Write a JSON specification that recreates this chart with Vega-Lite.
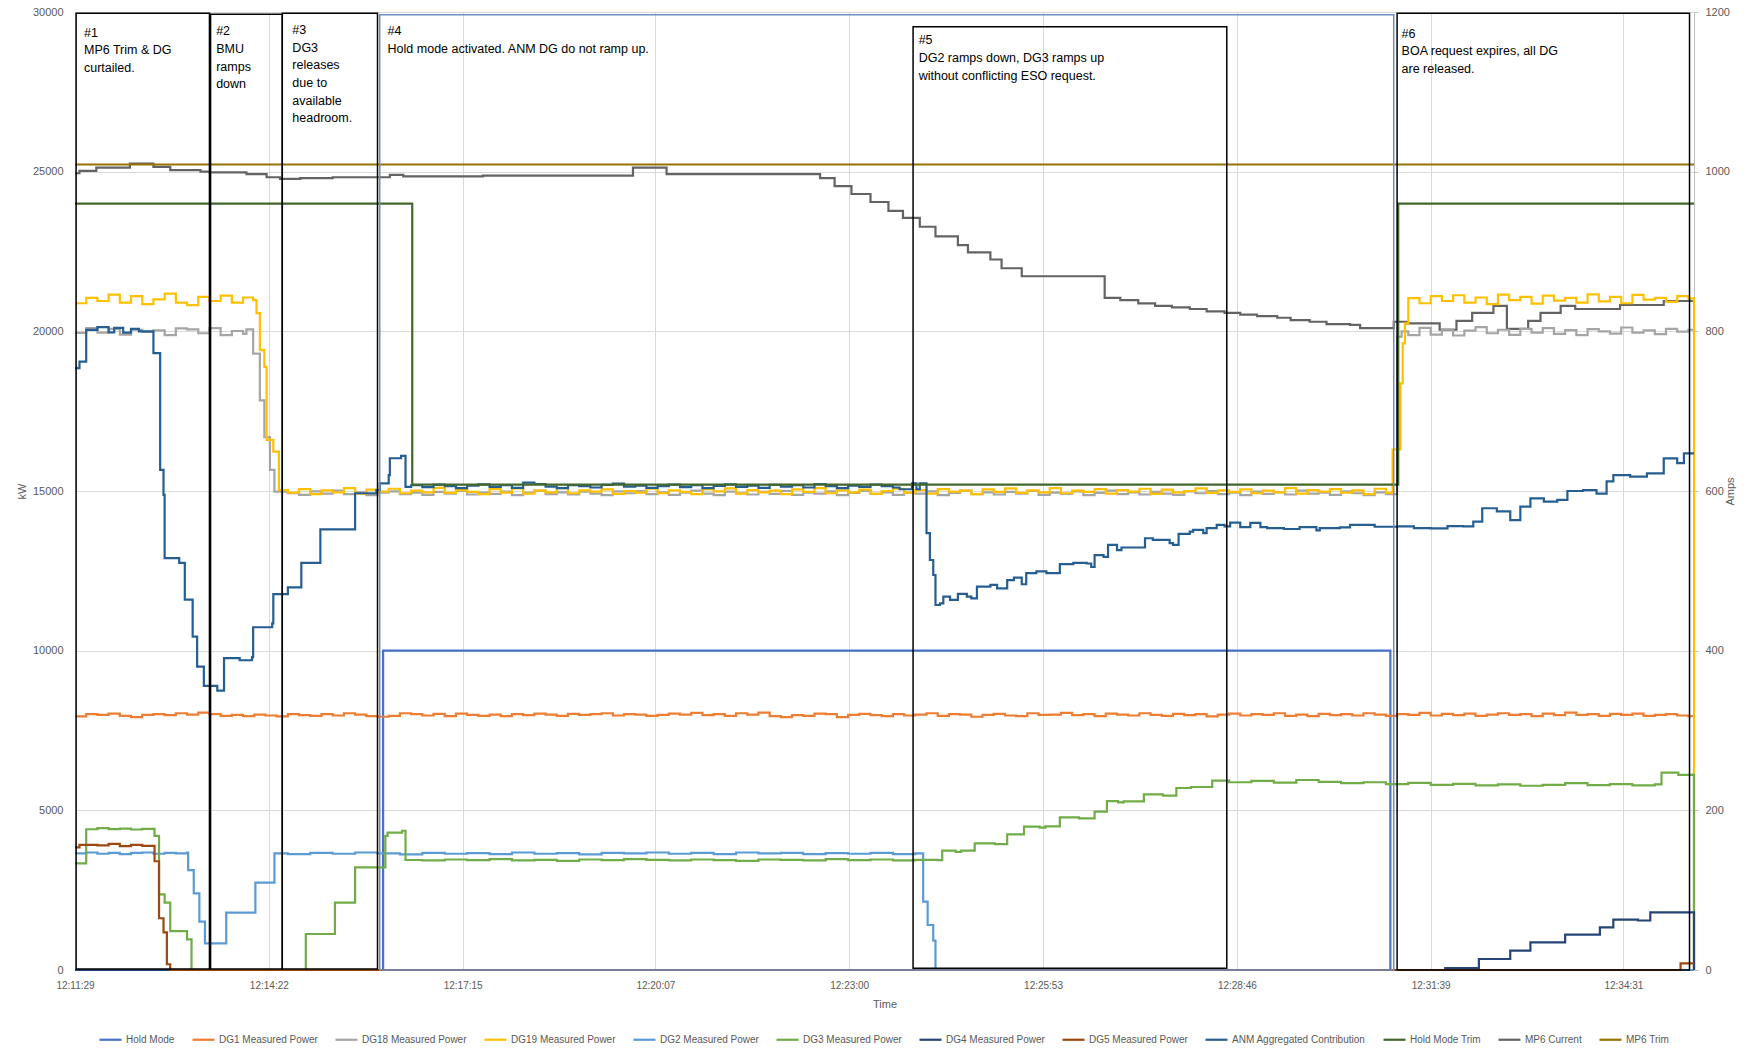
{
"$schema": "https://vega.github.io/schema/vega-lite/v6.json",
"width": 1619, "height": 958,
"autosize": {"type": "none"},
"padding": {"left": 75, "top": 12, "right": 55, "bottom": 81},
"background": "white",
"config": {
 "view": {"stroke": null},
 "font": "Liberation Sans",
 "axis": {"labelColor": "#595959", "titleColor": "#595959", "titleFontWeight": "normal", "gridColor": "#D9D9D9", "gridWidth": 1, "domainColor": "#D9D9D9", "tickColor": "#D9D9D9", "labelFont": "Liberation Sans", "titleFont": "Liberation Sans"},
 "legend": {"labelColor": "#595959", "labelFont": "Liberation Sans"},
 "line": {"strokeWidth": 2.2, "interpolate": "step-after"}
},
"layer": [
{
 "encoding": {
  "x": {"field": "t", "type": "temporal",
   "scale": {"domain": [{"year": 1900, "month": 1, "date": 1, "hours": 12, "minutes": 11, "seconds": 29}, {"year": 1900, "month": 1, "date": 1, "hours": 12, "minutes": 35, "seconds": 34}]},
   "axis": {"title": "Time", "titleFontSize": 11, "labelFontSize": 10, "format": "%H:%M:%S", "grid": true, "domain": true, "ticks": false, "tickSize": 0, "labelPadding": 10, "titlePadding": 8, "labelFlush": false,
    "values": [
     {"year": 1900, "month": 1, "date": 1, "hours": 12, "minutes": 11, "seconds": 29},
     {"year": 1900, "month": 1, "date": 1, "hours": 12, "minutes": 14, "seconds": 22},
     {"year": 1900, "month": 1, "date": 1, "hours": 12, "minutes": 17, "seconds": 15},
     {"year": 1900, "month": 1, "date": 1, "hours": 12, "minutes": 20, "seconds": 7},
     {"year": 1900, "month": 1, "date": 1, "hours": 12, "minutes": 23, "seconds": 0},
     {"year": 1900, "month": 1, "date": 1, "hours": 12, "minutes": 25, "seconds": 53},
     {"year": 1900, "month": 1, "date": 1, "hours": 12, "minutes": 28, "seconds": 46},
     {"year": 1900, "month": 1, "date": 1, "hours": 12, "minutes": 31, "seconds": 39},
     {"year": 1900, "month": 1, "date": 1, "hours": 12, "minutes": 34, "seconds": 31}]}},
  "y": {"field": "v", "type": "quantitative", "scale": {"domain": [0, 1200], "nice": false, "zero": true},
   "axis": {"orient": "right", "title": "Amps", "titleFontSize": 11, "titleAngle": 270, "titlePadding": 6, "labelFontSize": 11, "values": [0, 200, 400, 600, 800, 1000, 1200], "format": "d", "grid": false, "domain": true, "domainColor": "#BFBFBF", "ticks": true, "tickSize": 4, "tickColor": "#BFBFBF", "labelPadding": 7}}
 },
 "layer": [
  {"data": {"format": {"parse": {"t": "date:'%H:%M:%S'"}}, "values": [
   {"t":"12:11:29","v":998},{"t":"12:11:33","v":1001},{"t":"12:11:48","v":1005},{"t":"12:12:18","v":1010},{"t":"12:12:39","v":1006},{"t":"12:12:54","v":1002},{"t":"12:13:21","v":1000},{"t":"12:13:29","v":999},{"t":"12:14:02","v":997},{"t":"12:14:20","v":993},{"t":"12:14:32","v":991},{"t":"12:14:50","v":992},{"t":"12:15:19","v":993},{"t":"12:16:10","v":996},{"t":"12:16:22","v":994},{"t":"12:17:33","v":995},{"t":"12:19:47","v":1005},{"t":"12:20:17","v":997},{"t":"12:22:34","v":992},{"t":"12:22:47","v":982},{"t":"12:23:02","v":972},{"t":"12:23:19","v":962},{"t":"12:23:35","v":951},{"t":"12:23:48","v":942},{"t":"12:24:03","v":931},{"t":"12:24:17","v":919},{"t":"12:24:37","v":908},{"t":"12:24:46","v":899},{"t":"12:25:06","v":890},{"t":"12:25:16","v":879},{"t":"12:25:34","v":869},{"t":"12:26:48","v":842},{"t":"12:27:02","v":839},{"t":"12:27:18","v":835},{"t":"12:27:33","v":832},{"t":"12:27:48","v":830},{"t":"12:28:04","v":828},{"t":"12:28:19","v":825},{"t":"12:28:35","v":823},{"t":"12:28:49","v":821},{"t":"12:29:04","v":819},{"t":"12:29:22","v":817},{"t":"12:29:34","v":814},{"t":"12:29:51","v":812},{"t":"12:30:06","v":809},{"t":"12:30:27","v":808},{"t":"12:30:36","v":804},{"t":"12:31:06","v":812},{"t":"12:31:18","v":810},{"t":"12:31:47","v":802},{"t":"12:32:02","v":813},{"t":"12:32:16","v":823},{"t":"12:32:35","v":832},{"t":"12:32:47","v":803},{"t":"12:33:06","v":813},{"t":"12:33:17","v":823},{"t":"12:33:35","v":832},{"t":"12:33:48","v":828},{"t":"12:34:28","v":833},{"t":"12:35:07","v":838},{"t":"12:35:33","v":838}]},
   "mark": {"type": "line"},
   "encoding": {"color": {"datum": "MP6 Current",
     "scale": {"domain": ["Hold Mode","DG1 Measured Power","DG18 Measured Power","DG19 Measured Power","DG2 Measured Power","DG3 Measured Power","DG4 Measured Power","DG5 Measured Power","ANM Aggregated Contribution","Hold Mode Trim","MP6 Current","MP6 Trim"],
      "range": ["#4472C4","#ED7D31","#A5A5A5","#FFC000","#5B9BD5","#70AD47","#264478","#9E480E","#255E91","#43682B","#636363","#997300"]},
     "legend": {"orient": "none", "legendX": 23, "legendY": 1015, "direction": "horizontal", "columns": 12, "symbolType": "stroke", "symbolStrokeWidth": 2.2, "symbolSize": 484, "labelFontSize": 10, "columnPadding": 13, "title": null, "labelOffset": 3, "labelLimit": 0}}}},
  {"data": {"format": {"parse": {"t": "date:'%H:%M:%S'"}}, "values": [{"t":"12:11:29","v":1009},{"t":"12:35:34","v":1009}]},
   "mark": {"type": "line"}, "encoding": {"color": {"datum": "MP6 Trim"}}}
 ]
},
{
 "encoding": {
  "x": {"field": "t", "type": "temporal",
   "scale": {"domain": [{"year": 1900, "month": 1, "date": 1, "hours": 12, "minutes": 11, "seconds": 29}, {"year": 1900, "month": 1, "date": 1, "hours": 12, "minutes": 35, "seconds": 34}]},
   "axis": {"title": "Time", "titleFontSize": 11, "labelFontSize": 10, "format": "%H:%M:%S", "grid": true, "domain": true, "ticks": false, "tickSize": 0, "labelPadding": 10, "titlePadding": 8, "labelFlush": false,
    "values": [
     {"year": 1900, "month": 1, "date": 1, "hours": 12, "minutes": 11, "seconds": 29},
     {"year": 1900, "month": 1, "date": 1, "hours": 12, "minutes": 14, "seconds": 22},
     {"year": 1900, "month": 1, "date": 1, "hours": 12, "minutes": 17, "seconds": 15},
     {"year": 1900, "month": 1, "date": 1, "hours": 12, "minutes": 20, "seconds": 7},
     {"year": 1900, "month": 1, "date": 1, "hours": 12, "minutes": 23, "seconds": 0},
     {"year": 1900, "month": 1, "date": 1, "hours": 12, "minutes": 25, "seconds": 53},
     {"year": 1900, "month": 1, "date": 1, "hours": 12, "minutes": 28, "seconds": 46},
     {"year": 1900, "month": 1, "date": 1, "hours": 12, "minutes": 31, "seconds": 39},
     {"year": 1900, "month": 1, "date": 1, "hours": 12, "minutes": 34, "seconds": 31}]}},
  "y": {"field": "v", "type": "quantitative", "scale": {"domain": [0, 30000], "nice": false, "zero": true},
   "axis": {"orient": "left", "title": "kW", "titleFontSize": 11, "titlePadding": 5, "labelFontSize": 11, "values": [0, 5000, 10000, 15000, 20000, 25000, 30000], "format": "d", "grid": true, "domain": false, "ticks": false, "tickSize": 0, "labelPadding": 12}}
 },
 "layer": [
  {"data": {"format": {"parse": {"t": "date:'%H:%M:%S'"}}, "values": [{"t":"12:11:29","v":0},{"t":"12:16:04","v":10000},{"t":"12:31:03","v":0},{"t":"12:35:34","v":0}]},
   "mark": {"type": "line"}, "encoding": {"color": {"datum": "Hold Mode"}}},
  {"data": {"format": {"parse": {"t": "date:'%H:%M:%S'"}}, "values": [
   {"t":"12:11:29","v":7940},{"t":"12:11:39","v":8010},{"t":"12:11:49","v":7990},{"t":"12:11:59","v":8030},
   {"t":"12:12:09","v":7960},{"t":"12:12:19","v":7920},{"t":"12:12:29","v":7990},{"t":"12:12:39","v":8010},{"t":"12:12:49","v":7980},{"t":"12:12:59","v":8040},
   {"t":"12:13:09","v":8000},{"t":"12:13:19","v":8060},{"t":"12:13:29","v":8010},{"t":"12:13:39","v":7960},{"t":"12:13:49","v":7990},{"t":"12:13:59","v":7950},
   {"t":"12:14:09","v":8000},{"t":"12:14:19","v":7970},{"t":"12:14:29","v":7940},{"t":"12:14:39","v":8010},{"t":"12:14:49","v":7980},{"t":"12:14:59","v":7960},
   {"t":"12:15:09","v":8010},{"t":"12:15:19","v":7970},{"t":"12:15:29","v":8040},{"t":"12:15:39","v":8000},{"t":"12:15:49","v":7950},{"t":"12:15:59","v":7930},
   {"t":"12:16:09","v":7960},{"t":"12:16:19","v":8040},{"t":"12:16:29","v":8010},{"t":"12:16:39","v":7970},{"t":"12:16:49","v":8020},{"t":"12:16:59","v":7950},
   {"t":"12:17:09","v":8030},{"t":"12:17:19","v":7990},{"t":"12:17:29","v":7960},{"t":"12:17:39","v":8000},{"t":"12:17:49","v":7950},{"t":"12:17:59","v":8010},
   {"t":"12:18:09","v":7980},{"t":"12:18:19","v":8030},{"t":"12:18:29","v":8000},{"t":"12:18:39","v":7960},{"t":"12:18:49","v":8020},{"t":"12:18:59","v":7990},
   {"t":"12:19:09","v":8010},{"t":"12:19:19","v":8040},{"t":"12:19:29","v":7970},{"t":"12:19:39","v":8010},{"t":"12:19:49","v":8000},{"t":"12:19:59","v":7960},
   {"t":"12:20:09","v":7990},{"t":"12:20:19","v":8030},{"t":"12:20:29","v":8000},{"t":"12:20:39","v":8050},{"t":"12:20:49","v":7980},{"t":"12:20:59","v":8010},
   {"t":"12:21:09","v":7960},{"t":"12:21:19","v":8040},{"t":"12:21:29","v":8000},{"t":"12:21:39","v":8060},{"t":"12:21:49","v":7950},{"t":"12:21:59","v":7920},
   {"t":"12:22:09","v":7980},{"t":"12:22:19","v":7960},{"t":"12:22:29","v":8030},{"t":"12:22:39","v":8010},{"t":"12:22:49","v":7920},{"t":"12:22:59","v":7990},
   {"t":"12:23:09","v":8020},{"t":"12:23:19","v":7980},{"t":"12:23:29","v":7950},{"t":"12:23:39","v":8010},{"t":"12:23:49","v":7970},{"t":"12:23:59","v":8000},
   {"t":"12:24:09","v":8040},{"t":"12:24:19","v":7960},{"t":"12:24:29","v":8010},{"t":"12:24:39","v":8000},{"t":"12:24:49","v":7930},{"t":"12:24:59","v":7990},
   {"t":"12:25:09","v":8020},{"t":"12:25:19","v":7970},{"t":"12:25:29","v":7950},{"t":"12:25:39","v":8040},{"t":"12:25:49","v":7990},{"t":"12:25:59","v":8000},
   {"t":"12:26:09","v":8050},{"t":"12:26:19","v":7980},{"t":"12:26:29","v":8010},{"t":"12:26:39","v":7950},{"t":"12:26:49","v":8030},{"t":"12:26:59","v":8000},
   {"t":"12:27:09","v":7970},{"t":"12:27:19","v":8040},{"t":"12:27:29","v":7990},{"t":"12:27:39","v":7960},{"t":"12:27:49","v":8020},{"t":"12:27:59","v":7980},
   {"t":"12:28:09","v":8010},{"t":"12:28:19","v":7940},{"t":"12:28:29","v":8000},{"t":"12:28:39","v":8030},{"t":"12:28:49","v":7970},{"t":"12:28:59","v":8010},
   {"t":"12:29:09","v":7990},{"t":"12:29:19","v":8040},{"t":"12:29:29","v":7960},{"t":"12:29:39","v":8000},{"t":"12:29:49","v":7950},{"t":"12:29:59","v":8020},
   {"t":"12:30:09","v":7980},{"t":"12:30:19","v":8010},{"t":"12:30:29","v":7970},{"t":"12:30:39","v":8040},{"t":"12:30:49","v":8000},{"t":"12:30:59","v":7960},
   {"t":"12:31:09","v":8010},{"t":"12:31:19","v":7990},{"t":"12:31:29","v":8050},{"t":"12:31:39","v":7970},{"t":"12:31:49","v":8020},{"t":"12:31:59","v":7980},
   {"t":"12:32:09","v":8030},{"t":"12:32:19","v":7960},{"t":"12:32:29","v":8000},{"t":"12:32:39","v":8040},{"t":"12:32:49","v":7990},{"t":"12:32:59","v":8010},
   {"t":"12:33:09","v":7950},{"t":"12:33:19","v":8030},{"t":"12:33:29","v":7980},{"t":"12:33:39","v":8060},{"t":"12:33:49","v":7990},{"t":"12:33:59","v":8010},
   {"t":"12:34:09","v":7960},{"t":"12:34:19","v":8020},{"t":"12:34:29","v":7990},{"t":"12:34:39","v":8030},{"t":"12:34:49","v":7960},{"t":"12:34:59","v":7990},
   {"t":"12:35:09","v":8010},{"t":"12:35:19","v":7970},{"t":"12:35:29","v":7950},{"t":"12:35:34","v":7950}]},
   "mark": {"type": "line"}, "encoding": {"color": {"datum": "DG1 Measured Power"}}},
  {"data": {"format": {"parse": {"t": "date:'%H:%M:%S'"}}, "values": [
   {"t":"12:11:29","v":19950},{"t":"12:11:39","v":20100},{"t":"12:11:49","v":19960},{"t":"12:11:59","v":20080},
   {"t":"12:12:09","v":19900},{"t":"12:12:19","v":20050},{"t":"12:12:29","v":19980},{"t":"12:12:39","v":20030},{"t":"12:12:49","v":19880},{"t":"12:12:59","v":20090},
   {"t":"12:13:09","v":20060},{"t":"12:13:19","v":19940},{"t":"12:13:29","v":20100},{"t":"12:13:39","v":19880},{"t":"12:13:49","v":20010},{"t":"12:13:59","v":19920},
   {"t":"12:14:02","v":20060},{"t":"12:14:08","v":19300},{"t":"12:14:14","v":17840},{"t":"12:14:18","v":16690},{"t":"12:14:23","v":15660},{"t":"12:14:27","v":14980},
   {"t":"12:14:39","v":14930},{"t":"12:14:49","v":14880},{"t":"12:14:59","v":14990},
   {"t":"12:15:09","v":14920},{"t":"12:15:19","v":15010},{"t":"12:15:29","v":14900},{"t":"12:15:39","v":14960},{"t":"12:15:49","v":14870},{"t":"12:15:59","v":14950},
   {"t":"12:16:09","v":14990},{"t":"12:16:19","v":14900},{"t":"12:16:29","v":14950},{"t":"12:16:39","v":14880},{"t":"12:16:49","v":14970},{"t":"12:16:59","v":14920},
   {"t":"12:17:09","v":15000},{"t":"12:17:19","v":14890},{"t":"12:17:29","v":14950},{"t":"12:17:39","v":14910},{"t":"12:17:49","v":14980},{"t":"12:17:59","v":14870},
   {"t":"12:18:09","v":14940},{"t":"12:18:19","v":15010},{"t":"12:18:29","v":14900},{"t":"12:18:39","v":14960},{"t":"12:18:49","v":14890},{"t":"12:18:59","v":14980},
   {"t":"12:19:09","v":14920},{"t":"12:19:19","v":14870},{"t":"12:19:29","v":14990},{"t":"12:19:39","v":14930},{"t":"12:19:49","v":15000},{"t":"12:19:59","v":14900},
   {"t":"12:20:09","v":14960},{"t":"12:20:19","v":14880},{"t":"12:20:29","v":14950},{"t":"12:20:39","v":15010},{"t":"12:20:49","v":14920},{"t":"12:20:59","v":14870},
   {"t":"12:21:09","v":14980},{"t":"12:21:19","v":14930},{"t":"12:21:29","v":14890},{"t":"12:21:39","v":14970},{"t":"12:21:49","v":14910},{"t":"12:21:59","v":15000},
   {"t":"12:22:09","v":14880},{"t":"12:22:19","v":14950},{"t":"12:22:29","v":14920},{"t":"12:22:39","v":14990},{"t":"12:22:49","v":14870},{"t":"12:22:59","v":14940},
   {"t":"12:23:09","v":15000},{"t":"12:23:19","v":14910},{"t":"12:23:29","v":14960},{"t":"12:23:39","v":14880},{"t":"12:23:49","v":14950},{"t":"12:23:59","v":14920},
   {"t":"12:24:09","v":14990},{"t":"12:24:19","v":14870},{"t":"12:24:29","v":14940},{"t":"12:24:39","v":15010},{"t":"12:24:49","v":14900},{"t":"12:24:59","v":14960},
   {"t":"12:25:09","v":14890},{"t":"12:25:19","v":14970},{"t":"12:25:29","v":14920},{"t":"12:25:39","v":15000},{"t":"12:25:49","v":14880},{"t":"12:25:59","v":14950},
   {"t":"12:26:09","v":14910},{"t":"12:26:19","v":14990},{"t":"12:26:29","v":14870},{"t":"12:26:39","v":14940},{"t":"12:26:49","v":15010},{"t":"12:26:59","v":14900},
   {"t":"12:27:09","v":14960},{"t":"12:27:19","v":14890},{"t":"12:27:29","v":14970},{"t":"12:27:39","v":14920},{"t":"12:27:49","v":14880},{"t":"12:27:59","v":14990},
   {"t":"12:28:09","v":14930},{"t":"12:28:19","v":15000},{"t":"12:28:29","v":14900},{"t":"12:28:39","v":14950},{"t":"12:28:49","v":14870},{"t":"12:28:59","v":14980},
   {"t":"12:29:09","v":14910},{"t":"12:29:19","v":14960},{"t":"12:29:29","v":14890},{"t":"12:29:39","v":15010},{"t":"12:29:49","v":14920},{"t":"12:29:59","v":14950},
   {"t":"12:30:09","v":14880},{"t":"12:30:19","v":14990},{"t":"12:30:29","v":14930},{"t":"12:30:39","v":14870},{"t":"12:30:49","v":14960},{"t":"12:30:59","v":14900},
   {"t":"12:31:09","v":19830},{"t":"12:31:13","v":20000},
   {"t":"12:31:19","v":19880},{"t":"12:31:29","v":20110},{"t":"12:31:39","v":19900},{"t":"12:31:49","v":20060},{"t":"12:31:59","v":19870},
   {"t":"12:32:09","v":20020},{"t":"12:32:19","v":20130},{"t":"12:32:29","v":19940},{"t":"12:32:39","v":20050},{"t":"12:32:49","v":19890},{"t":"12:32:59","v":20080},
   {"t":"12:33:09","v":19960},{"t":"12:33:19","v":20100},{"t":"12:33:29","v":19920},{"t":"12:33:39","v":20040},{"t":"12:33:49","v":19880},{"t":"12:33:59","v":20070},
   {"t":"12:34:09","v":20000},{"t":"12:34:19","v":19930},{"t":"12:34:29","v":20120},{"t":"12:34:39","v":19960},{"t":"12:34:49","v":20030},{"t":"12:34:59","v":19910},
   {"t":"12:35:09","v":20080},{"t":"12:35:19","v":19990},{"t":"12:35:29","v":20050},{"t":"12:35:34","v":20000}]},
   "mark": {"type": "line"}, "encoding": {"color": {"datum": "DG18 Measured Power"}}},
  {"data": {"format": {"parse": {"t": "date:'%H:%M:%S'"}}, "values": [
   {"t":"12:11:29","v":20880},{"t":"12:11:39","v":21050},{"t":"12:11:49","v":20950},{"t":"12:11:59","v":21150},
   {"t":"12:12:09","v":20900},{"t":"12:12:19","v":21100},{"t":"12:12:29","v":20850},{"t":"12:12:39","v":21000},{"t":"12:12:49","v":21180},{"t":"12:12:59","v":20900},
   {"t":"12:13:09","v":20820},{"t":"12:13:19","v":21080},{"t":"12:13:29","v":20950},{"t":"12:13:39","v":21120},{"t":"12:13:49","v":20900},{"t":"12:13:59","v":21060},
   {"t":"12:14:08","v":20980},{"t":"12:14:11","v":20570},{"t":"12:14:14","v":19410},{"t":"12:14:18","v":18890},{"t":"12:14:20","v":16600},{"t":"12:14:26","v":16230},{"t":"12:14:31","v":15030},
   {"t":"12:14:39","v":14950},{"t":"12:14:49","v":15060},{"t":"12:14:59","v":14900},
   {"t":"12:15:09","v":15020},{"t":"12:15:19","v":14960},{"t":"12:15:29","v":15090},{"t":"12:15:39","v":14920},{"t":"12:15:49","v":15040},{"t":"12:15:59","v":14980},
   {"t":"12:16:09","v":15070},{"t":"12:16:19","v":14930},{"t":"12:16:29","v":15010},{"t":"12:16:39","v":14960},{"t":"12:16:49","v":15100},{"t":"12:16:59","v":14940},
   {"t":"12:17:09","v":15030},{"t":"12:17:19","v":14970},{"t":"12:17:29","v":14900},{"t":"12:17:39","v":15060},{"t":"12:17:49","v":14950},{"t":"12:17:59","v":15080},
   {"t":"12:18:09","v":14920},{"t":"12:18:19","v":15010},{"t":"12:18:29","v":14960},{"t":"12:18:39","v":15090},{"t":"12:18:49","v":14930},{"t":"12:18:59","v":15020},
   {"t":"12:19:09","v":14980},{"t":"12:19:19","v":15050},{"t":"12:19:29","v":14910},{"t":"12:19:39","v":15000},{"t":"12:19:49","v":14950},{"t":"12:19:59","v":15070},
   {"t":"12:20:09","v":14930},{"t":"12:20:19","v":15020},{"t":"12:20:29","v":14970},{"t":"12:20:39","v":14900},{"t":"12:20:49","v":15060},{"t":"12:20:59","v":14990},
   {"t":"12:21:09","v":15080},{"t":"12:21:19","v":14920},{"t":"12:21:29","v":15030},{"t":"12:21:39","v":14960},{"t":"12:21:49","v":15010},{"t":"12:21:59","v":14900},
   {"t":"12:22:09","v":15050},{"t":"12:22:19","v":14970},{"t":"12:22:29","v":15090},{"t":"12:22:39","v":14930},{"t":"12:22:49","v":15020},{"t":"12:22:59","v":14960},
   {"t":"12:23:09","v":15040},{"t":"12:23:19","v":14910},{"t":"12:23:29","v":15000},{"t":"12:23:39","v":15070},{"t":"12:23:49","v":14950},{"t":"12:23:59","v":15030},
   {"t":"12:24:09","v":14920},{"t":"12:24:19","v":15060},{"t":"12:24:29","v":14980},{"t":"12:24:39","v":15010},{"t":"12:24:49","v":14900},{"t":"12:24:59","v":15050},
   {"t":"12:25:09","v":14970},{"t":"12:25:19","v":15080},{"t":"12:25:29","v":14940},{"t":"12:25:39","v":15020},{"t":"12:25:49","v":14960},{"t":"12:25:59","v":15090},
   {"t":"12:26:09","v":14930},{"t":"12:26:19","v":15010},{"t":"12:26:29","v":14970},{"t":"12:26:39","v":15060},{"t":"12:26:49","v":14920},{"t":"12:26:59","v":15030},
   {"t":"12:27:09","v":14980},{"t":"12:27:19","v":15070},{"t":"12:27:29","v":14910},{"t":"12:27:39","v":15040},{"t":"12:27:49","v":14960},{"t":"12:27:59","v":15000},
   {"t":"12:28:09","v":15080},{"t":"12:28:19","v":14940},{"t":"12:28:29","v":15020},{"t":"12:28:39","v":14970},{"t":"12:28:49","v":15050},{"t":"12:28:59","v":14930},
   {"t":"12:29:09","v":15010},{"t":"12:29:19","v":14960},{"t":"12:29:29","v":15090},{"t":"12:29:39","v":14920},{"t":"12:29:49","v":15030},{"t":"12:29:59","v":14980},
   {"t":"12:30:09","v":15060},{"t":"12:30:19","v":14950},{"t":"12:30:29","v":15020},{"t":"12:30:39","v":14900},{"t":"12:30:49","v":15070},{"t":"12:30:59","v":14940},
   {"t":"12:31:05","v":16300},{"t":"12:31:12","v":18370},{"t":"12:31:14","v":19620},{"t":"12:31:16","v":20250},{"t":"12:31:19","v":21040},
   {"t":"12:31:29","v":20880},{"t":"12:31:39","v":21100},{"t":"12:31:49","v":20950},{"t":"12:31:59","v":21130},
   {"t":"12:32:09","v":20900},{"t":"12:32:19","v":21060},{"t":"12:32:29","v":20850},{"t":"12:32:39","v":21150},{"t":"12:32:49","v":20980},{"t":"12:32:59","v":21080},
   {"t":"12:33:09","v":20870},{"t":"12:33:19","v":21120},{"t":"12:33:29","v":20960},{"t":"12:33:39","v":21050},{"t":"12:33:49","v":20900},{"t":"12:33:59","v":21160},
   {"t":"12:34:09","v":20940},{"t":"12:34:19","v":21080},{"t":"12:34:29","v":20880},{"t":"12:34:39","v":21140},{"t":"12:34:49","v":20990},{"t":"12:34:59","v":21050},
   {"t":"12:35:09","v":20920},{"t":"12:35:19","v":21100},{"t":"12:35:29","v":21030},{"t":"12:35:33","v":21030},{"t":"12:35:34","v":0}]},
   "mark": {"type": "line"}, "encoding": {"color": {"datum": "DG19 Measured Power"}}},
  {"data": {"format": {"parse": {"t": "date:'%H:%M:%S'"}}, "values": [
   {"t":"12:11:29","v":3650},{"t":"12:11:39","v":3680},{"t":"12:11:49","v":3640},{"t":"12:11:59","v":3670},{"t":"12:12:09","v":3630},{"t":"12:12:19","v":3670},{"t":"12:12:29","v":3680},{"t":"12:12:39","v":3640},{"t":"12:12:49","v":3670},{"t":"12:12:59","v":3650},{"t":"12:13:09","v":3680},
   {"t":"12:13:10","v":3130},{"t":"12:13:15","v":2400},{"t":"12:13:20","v":1515},{"t":"12:13:25","v":834},{"t":"12:13:44","v":1797},{"t":"12:14:10","v":2735},{"t":"12:14:27","v":3654},
   {"t":"12:14:39","v":3630},{"t":"12:14:59","v":3670},{"t":"12:15:19","v":3640},{"t":"12:15:39","v":3680},{"t":"12:15:59","v":3650},{"t":"12:16:19","v":3620},{"t":"12:16:39","v":3670},{"t":"12:16:59","v":3640},{"t":"12:17:19","v":3660},{"t":"12:17:39","v":3630},{"t":"12:17:59","v":3680},{"t":"12:18:19","v":3640},{"t":"12:18:39","v":3660},{"t":"12:18:59","v":3620},{"t":"12:19:19","v":3670},{"t":"12:19:39","v":3650},{"t":"12:19:59","v":3680},{"t":"12:20:19","v":3640},{"t":"12:20:39","v":3670},{"t":"12:20:59","v":3630},{"t":"12:21:19","v":3680},{"t":"12:21:39","v":3650},{"t":"12:21:59","v":3670},{"t":"12:22:19","v":3630},{"t":"12:22:39","v":3660},{"t":"12:22:59","v":3640},{"t":"12:23:19","v":3670},{"t":"12:23:39","v":3630},{"t":"12:23:59","v":3650},
   {"t":"12:24:06","v":2140},{"t":"12:24:10","v":1409},{"t":"12:24:15","v":919},{"t":"12:24:17","v":0},{"t":"12:35:34","v":0}]},
   "mark": {"type": "line"}, "encoding": {"color": {"datum": "DG2 Measured Power"}}},
  {"data": {"format": {"parse": {"t": "date:'%H:%M:%S'"}}, "values": [
   {"t":"12:11:29","v":3340},{"t":"12:11:39","v":4408},{"t":"12:11:49","v":4440},{"t":"12:11:59","v":4410},{"t":"12:12:09","v":4430},{"t":"12:12:19","v":4400},{"t":"12:12:29","v":4420},
   {"t":"12:12:40","v":4200},{"t":"12:12:44","v":2370},{"t":"12:12:49","v":2108},{"t":"12:12:54","v":1220},{"t":"12:13:09","v":960},{"t":"12:13:13","v":0},
   {"t":"12:14:55","v":1128},{"t":"12:15:21","v":2108},{"t":"12:15:39","v":3215},{"t":"12:16:06","v":4200},{"t":"12:16:08","v":4300},{"t":"12:16:21","v":4360},{"t":"12:16:24","v":3445},
   {"t":"12:16:39","v":3430},{"t":"12:16:59","v":3460},{"t":"12:17:19","v":3440},{"t":"12:17:39","v":3470},{"t":"12:17:59","v":3430},{"t":"12:18:19","v":3450},{"t":"12:18:39","v":3420},{"t":"12:18:59","v":3460},{"t":"12:19:19","v":3440},{"t":"12:19:39","v":3470},{"t":"12:19:59","v":3450},{"t":"12:20:19","v":3430},{"t":"12:20:39","v":3460},{"t":"12:20:59","v":3440},{"t":"12:21:19","v":3420},{"t":"12:21:39","v":3460},{"t":"12:21:59","v":3450},{"t":"12:22:19","v":3430},{"t":"12:22:39","v":3470},{"t":"12:22:59","v":3440},{"t":"12:23:19","v":3460},{"t":"12:23:39","v":3430},{"t":"12:23:59","v":3450},{"t":"12:24:19","v":3440},
   {"t":"12:24:23","v":3737},{"t":"12:24:35","v":3700},{"t":"12:24:40","v":3740},{"t":"12:24:52","v":3967},{"t":"12:25:10","v":3940},{"t":"12:25:21","v":4248},{"t":"12:25:36","v":4490},{"t":"12:25:50","v":4460},{"t":"12:25:55","v":4500},{"t":"12:26:08","v":4780},{"t":"12:26:25","v":4750},{"t":"12:26:39","v":4960},{"t":"12:26:50","v":5290},{"t":"12:27:00","v":5250},{"t":"12:27:05","v":5280},{"t":"12:27:23","v":5500},{"t":"12:27:40","v":5460},{"t":"12:27:52","v":5700},{"t":"12:28:05","v":5730},{"t":"12:28:24","v":5930},
   {"t":"12:28:39","v":5880},{"t":"12:28:59","v":5920},{"t":"12:29:19","v":5870},{"t":"12:29:39","v":5950},{"t":"12:29:59","v":5890},{"t":"12:30:19","v":5850},{"t":"12:30:39","v":5880},{"t":"12:30:59","v":5820},{"t":"12:31:19","v":5860},{"t":"12:31:39","v":5800},{"t":"12:31:59","v":5830},{"t":"12:32:19","v":5780},{"t":"12:32:39","v":5810},{"t":"12:32:59","v":5770},{"t":"12:33:19","v":5800},{"t":"12:33:39","v":5850},{"t":"12:33:59","v":5790},{"t":"12:34:19","v":5820},{"t":"12:34:39","v":5780},{"t":"12:34:59","v":5810},
   {"t":"12:35:05","v":6180},{"t":"12:35:20","v":6110},{"t":"12:35:33","v":6120},{"t":"12:35:34","v":0}]},
   "mark": {"type": "line"}, "encoding": {"color": {"datum": "DG3 Measured Power"}}},
  {"data": {"format": {"parse": {"t": "date:'%H:%M:%S'"}}, "values": [
   {"t":"12:11:29","v":0},{"t":"12:31:52","v":63},{"t":"12:32:22","v":344},{"t":"12:32:50","v":605},{"t":"12:33:08","v":866},{"t":"12:33:39","v":1106},{"t":"12:34:10","v":1336},{"t":"12:34:22","v":1576},{"t":"12:34:44","v":1550},{"t":"12:34:55","v":1806},{"t":"12:35:33","v":1806},{"t":"12:35:34","v":0}]},
   "mark": {"type": "line"}, "encoding": {"color": {"datum": "DG4 Measured Power"}}},
  {"data": {"format": {"parse": {"t": "date:'%H:%M:%S'"}}, "values": [
   {"t":"12:11:29","v":3840},{"t":"12:11:33","v":3920},{"t":"12:11:49","v":3900},{"t":"12:11:59","v":3950},{"t":"12:12:09","v":3880},{"t":"12:12:19","v":3920},{"t":"12:12:29","v":3890},{"t":"12:12:40","v":3405},{"t":"12:12:44","v":1620},{"t":"12:12:48","v":1180},{"t":"12:12:51","v":180},{"t":"12:12:54","v":0},{"t":"12:35:22","v":209},{"t":"12:35:34","v":209}]},
   "mark": {"type": "line"}, "encoding": {"color": {"datum": "DG5 Measured Power"}}},
  {"data": {"format": {"parse": {"t": "date:'%H:%M:%S'"}}, "values": [
   {"t":"12:11:29","v":18845},{"t":"12:11:33","v":19050},{"t":"12:11:39","v":20045},{"t":"12:11:49","v":20130},{"t":"12:11:59","v":19970},{"t":"12:12:04","v":20110},{"t":"12:12:12","v":19960},{"t":"12:12:19","v":20080},{"t":"12:12:26","v":20000},
   {"t":"12:12:39","v":19320},{"t":"12:12:45","v":15660},{"t":"12:12:48","v":14880},{"t":"12:12:49","v":12900},{"t":"12:13:02","v":12750},{"t":"12:13:07","v":11600},{"t":"12:13:14","v":10440},{"t":"12:13:18","v":9500},{"t":"12:13:24","v":8895},{"t":"12:13:36","v":8750},{"t":"12:13:42","v":9765},{"t":"12:13:56","v":9700},{"t":"12:14:07","v":9800},{"t":"12:14:08","v":10733},{"t":"12:14:25","v":10855},{"t":"12:14:26","v":11770},{"t":"12:14:39","v":11980},{"t":"12:14:51","v":12750},{"t":"12:15:08","v":13800},{"t":"12:15:39","v":14930},{"t":"12:15:58","v":15030},{"t":"12:16:01","v":15240},{"t":"12:16:09","v":15500},{"t":"12:16:10","v":16025},{"t":"12:16:20","v":16100},{"t":"12:16:24","v":15130},
   {"t":"12:16:29","v":15180},{"t":"12:16:39","v":15120},{"t":"12:16:49","v":15200},{"t":"12:16:59","v":15150},
   {"t":"12:17:09","v":15090},{"t":"12:17:19","v":15170},{"t":"12:17:29","v":15210},{"t":"12:17:39","v":15130},{"t":"12:17:49","v":15180},{"t":"12:17:59","v":15100},
   {"t":"12:18:09","v":15260},{"t":"12:18:19","v":15220},{"t":"12:18:29","v":15140},{"t":"12:18:39","v":15090},{"t":"12:18:49","v":15180},{"t":"12:18:59","v":15150},
   {"t":"12:19:09","v":15110},{"t":"12:19:19","v":15190},{"t":"12:19:29","v":15230},{"t":"12:19:39","v":15140},{"t":"12:19:49","v":15170},{"t":"12:19:59","v":15100},
   {"t":"12:20:09","v":15150},{"t":"12:20:19","v":15200},{"t":"12:20:29","v":15120},{"t":"12:20:39","v":15180},{"t":"12:20:49","v":15090},{"t":"12:20:59","v":15160},
   {"t":"12:21:09","v":15210},{"t":"12:21:19","v":15130},{"t":"12:21:29","v":15170},{"t":"12:21:39","v":15100},{"t":"12:21:49","v":15190},{"t":"12:21:59","v":15140},
   {"t":"12:22:09","v":15180},{"t":"12:22:19","v":15110},{"t":"12:22:29","v":15220},{"t":"12:22:39","v":15150},{"t":"12:22:49","v":15090},{"t":"12:22:59","v":15170},
   {"t":"12:23:09","v":15130},{"t":"12:23:19","v":15200},{"t":"12:23:29","v":15150},{"t":"12:23:39","v":15110},
   {"t":"12:23:45","v":15055},{"t":"12:23:56","v":15240},{"t":"12:24:00","v":15055},{"t":"12:24:03","v":15240},{"t":"12:24:09","v":13680},{"t":"12:24:12","v":12840},{"t":"12:24:15","v":12370},{"t":"12:24:17","v":11430},{"t":"12:24:21","v":11480},{"t":"12:24:24","v":11690},{"t":"12:24:30","v":11590},{"t":"12:24:37","v":11780},{"t":"12:24:45","v":11690},{"t":"12:24:49","v":11640},{"t":"12:24:54","v":12005},{"t":"12:25:06","v":12060},{"t":"12:25:12","v":11950},{"t":"12:25:21","v":12210},{"t":"12:25:27","v":12290},{"t":"12:25:34","v":12080},{"t":"12:25:38","v":12430},{"t":"12:25:47","v":12480},{"t":"12:25:56","v":12430},{"t":"12:26:08","v":12710},{"t":"12:26:20","v":12750},{"t":"12:26:32","v":12730},{"t":"12:26:36","v":12620},{"t":"12:26:39","v":12990},{"t":"12:26:47","v":12940},{"t":"12:26:51","v":13310},{"t":"12:26:59","v":13150},{"t":"12:27:03","v":13230},{"t":"12:27:24","v":13520},{"t":"12:27:31","v":13470},{"t":"12:27:46","v":13370},{"t":"12:27:49","v":13310},{"t":"12:27:54","v":13660},{"t":"12:28:04","v":13730},{"t":"12:28:07","v":13780},{"t":"12:28:16","v":13680},{"t":"12:28:19","v":13840},{"t":"12:28:28","v":13940},{"t":"12:28:35","v":13890},{"t":"12:28:40","v":14010},{"t":"12:28:49","v":13870},{"t":"12:28:58","v":14000},{"t":"12:29:07","v":13870},{"t":"12:29:13","v":13840},{"t":"12:29:28","v":13810},{"t":"12:29:42","v":13870},{"t":"12:29:57","v":13770},{"t":"12:30:00","v":13840},{"t":"12:30:18","v":13860},{"t":"12:30:27","v":13940},{"t":"12:30:49","v":13880},{"t":"12:31:09","v":13890},{"t":"12:31:24","v":13840},{"t":"12:31:39","v":13830},{"t":"12:31:54","v":13900},{"t":"12:32:08","v":13890},{"t":"12:32:17","v":14040},{"t":"12:32:25","v":14460},{"t":"12:32:38","v":14360},{"t":"12:32:50","v":14090},{"t":"12:32:59","v":14510},{"t":"12:33:08","v":14770},{"t":"12:33:20","v":14670},{"t":"12:33:32","v":14720},{"t":"12:33:41","v":15000},{"t":"12:33:55","v":15030},{"t":"12:34:07","v":14920},{"t":"12:34:16","v":15300},{"t":"12:34:22","v":15500},{"t":"12:34:37","v":15450},{"t":"12:34:52","v":15550},{"t":"12:35:07","v":16020},{"t":"12:35:19","v":15870},{"t":"12:35:25","v":16180},{"t":"12:35:34","v":16180}]},
   "mark": {"type": "line"}, "encoding": {"color": {"datum": "ANM Aggregated Contribution"}}},
  {"data": {"format": {"parse": {"t": "date:'%H:%M:%S'"}}, "values": [{"t":"12:11:29","v":24000},{"t":"12:16:30","v":15200},{"t":"12:31:10","v":24000},{"t":"12:35:34","v":24000}]},
   "mark": {"type": "line"}, "encoding": {"color": {"datum": "Hold Mode Trim"}}},
  {"data": {"format": {"parse": {"t": "date:'%H:%M:%S'", "t2": "date:'%H:%M:%S'"}}, "values": [
   {"box":"#1","t":"12:11:30","t2":"12:13:29","v":29964,"v2":30},
   {"box":"#2","t":"12:13:30","t2":"12:14:34","v":29932,"v2":30},
   {"box":"#3","t":"12:14:34","t2":"12:15:59","v":29964,"v2":30},
   {"box":"#5","t":"12:23:57","t2":"12:28:37","v":29541,"v2":53},
   {"box":"#6","t":"12:31:09","t2":"12:35:30","v":29961,"v2":0}]},
   "mark": {"type": "rect", "filled": false, "stroke": "#000000", "strokeWidth": 1.5},
   "encoding": {"x2": {"field": "t2"}, "y2": {"field": "v2"}}},
  {"data": {"format": {"parse": {"t": "date:'%H:%M:%S'", "t2": "date:'%H:%M:%S'"}}, "values": [
   {"box":"#4","t":"12:16:01","t2":"12:31:06","v":29911,"v2":0}]},
   "mark": {"type": "rect", "filled": false, "stroke": "#6F8CC6", "strokeWidth": 1.5},
   "encoding": {"x2": {"field": "t2"}, "y2": {"field": "v2"}}},
  {"data": {"format": {"parse": {"t": "date:'%H:%M:%S'"}}, "values": [
   {"t":"12:11:37","v":29231,"txt":"#1\nMP6 Trim & DG\ncurtailed."},
   {"t":"12:13:35","v":29272,"txt":"#2\nBMU\nramps\ndown"},
   {"t":"12:14:43","v":29313,"txt":"#3\nDG3\nreleases\ndue to\navailable\nheadroom."},
   {"t":"12:16:08","v":29284,"txt":"#4\nHold mode activated.  ANM DG do not ramp up."},
   {"t":"12:24:02","v":28990,"txt":"#5\nDG2 ramps down, DG3 ramps up\nwithout conflicting ESO request."},
   {"t":"12:31:13","v":29193,"txt":"#6\nBOA request expires, all DG\nare released."}]},
   "mark": {"type": "text", "align": "left", "baseline": "alphabetic", "lineBreak": "\n", "lineHeight": 17.7, "fontSize": 12.5, "font": "Liberation Sans", "color": "#000000"},
   "encoding": {"text": {"field": "txt", "type": "nominal"}}}
 ]
}
],
"resolve": {"scale": {"y": "independent"}}
}
